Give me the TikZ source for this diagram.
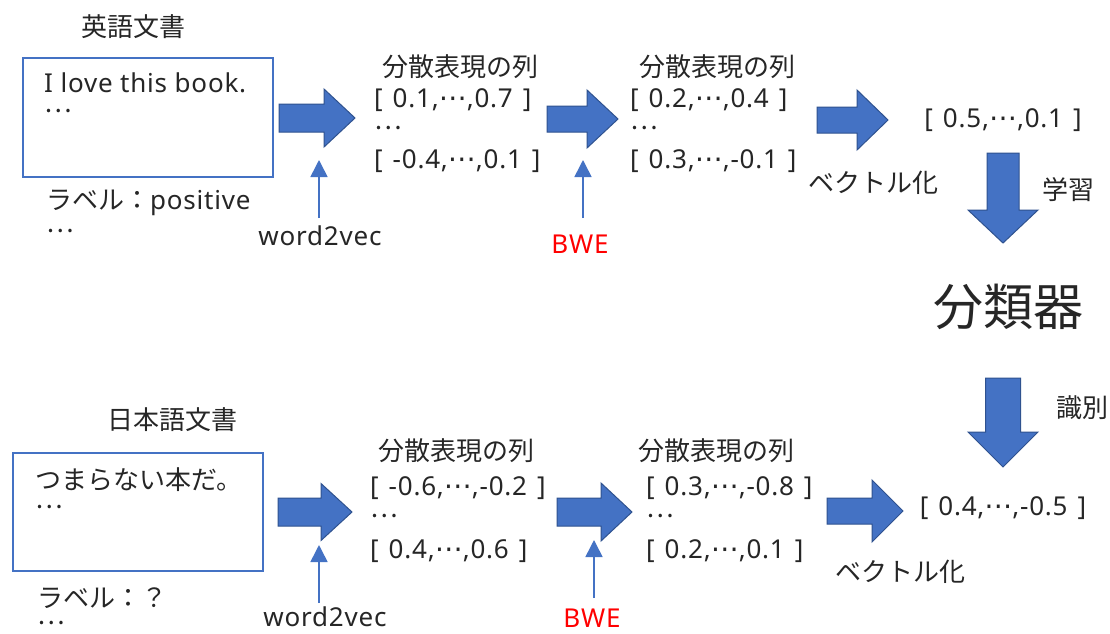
\documentclass[tikz,border=0pt]{standalone}
\usepackage{fontspec}
\setmainfont{Noto Sans}[LetterSpace=3]
\newfontfamily\jp{Noto Sans CJK JP}
\newfontfamily\dv{DejaVu Sans}
\usetikzlibrary{arrows.meta}
\definecolor{blu}{HTML}{4472C4}
\definecolor{blud}{HTML}{2F528F}
\definecolor{txt}{HTML}{262626}
\definecolor{bwered}{HTML}{FF0000}
\newcommand\vd{{\dv\fontsize{28}{30}\selectfont ⋯}}
\newcommand\jdots{{\jp …}}
\newcommand\vsp{\hspace{10pt}}
\newcommand\rblk[5]{% tail, tip, yc, shaft half, head half
  \draw[blkarrow] (#1,#3-#4) -- (#2-31,#3-#4) -- (#2-31,#3-#5) -- (#2,#3) -- (#2-31,#3+#5) -- (#2-31,#3+#4) -- (#1,#3+#4) -- cycle;}
\newcommand\dblk[6]{% xc, top, tip, shaft half, head half, head len
  \draw[blkarrow] (#1-#4,#2) -- (#1+#4,#2) -- (#1+#4,#3-#6) -- (#1+#5,#3-#6) -- (#1,#3) -- (#1-#5,#3-#6) -- (#1-#4,#3-#6) -- cycle;}
\tikzset{
  lbl/.style={inner sep=0pt, text=txt, font=\fontsize{26}{30}\selectfont},
  lw/.style={lbl, anchor=west},
  docbox/.style={draw=blu, line width=2pt},
  blkarrow/.style={fill=blu, draw=blud, line width=1pt, line join=miter},
  thinarr/.style={draw=blu, line width=1.6pt, -{Triangle[length=17pt,width=17pt]}},
  bwetext/.style={lbl, text=bwered},
}
\begin{document}
\begin{tikzpicture}[x=1pt,y=-1pt]
\useasboundingbox[fill=white] (0,0) rectangle (1110,633);

% ---- top row ----
\node[lbl] (enTitle) at (133,27) {\jp 英語文書};
\node[docbox, minimum width=250pt, minimum height=119pt, anchor=north west] (enBox) at (22,57) {};
\node[lw] (enS) at (44,83) {I love this book.};
\node[lw] (enD) at (44,111) {\jdots};
\node[lw] (enL) at (46,203) {{\jp ラベル：}positive};
\node[lw] (enLD) at (46,231) {\jdots};

\rblk{279}{355}{118}{14}{29}

\node[lbl] (s1t) at (460,67) {\jp 分散表現の列};
\node[lw] (s1a) at (374,100) {[\vsp0.1,\vd,0.7\vsp]};
\node[lw] (s1b) at (374,128) {\jdots};
\node[lw] (s1c) at (374,161) {[\vsp-0.4,\vd,0.1\vsp]};

\node[lbl] (w2v1) at (320,236) {word2vec};
\coordinate (w2v1tip) at (319,160);
\coordinate (w2v1base) at (319,218);
\draw[thinarr] (w2v1base) -- (w2v1tip);

\rblk{547}{618}{119}{13}{29}

\node[lbl] (s2t) at (717,67) {\jp 分散表現の列};
\node[lw] (s2a) at (630,100) {[\vsp0.2,\vd,0.4\vsp]};
\node[lw] (s2b) at (630,128) {\jdots};
\node[lw] (s2c) at (630,161) {[\vsp0.3,\vd,-0.1\vsp]};

\node[bwetext] (bwe1) at (580,244) {BWE};
\coordinate (bwe1tip) at (583,160);
\coordinate (bwe1base) at (583,218);
\draw[thinarr] (bwe1base) -- (bwe1tip);

\rblk{817}{888}{120}{13}{30}

\node[lbl] (v1) at (1003,120) {[\vsp0.5,\vd,0.1\vsp]};
\node[lbl] (vec1) at (873,183) {\jp ベクトル化};

\dblk{1003}{153}{243}{16}{35}{33}
\node[lbl] (learn) at (1068,190) {\jp 学習};

\node[lbl, font=\fontsize{50}{56}\selectfont] (clf) at (1008,307) {\jp 分類器};

\dblk{1003}{378}{467}{17.5}{35}{35}
\node[lbl] (ident) at (1082,408) {\jp 識別};

% ---- bottom row ----
\node[lbl] (jaTitle) at (172,420) {\jp 日本語文書};
\node[docbox, minimum width=250pt, minimum height=118pt, anchor=north west] (jaBox) at (12,452) {};
\node[lw] (jaS) at (35,480) {\jp つまらない本だ。};
\node[lw] (jaD) at (35,507) {\jdots};
\node[lw] (jaL) at (37,598) {\jp ラベル：？};
\node[lw] (jaLD) at (37,623) {\jdots};

\rblk{278}{352}{512}{14}{28.5}

\node[lbl] (t1t) at (456,451) {\jp 分散表現の列};
\node[lw] (t1a) at (370,488) {[\vsp-0.6,\vd,-0.2\vsp]};
\node[lw] (t1b) at (370,516) {\jdots};
\node[lw] (t1c) at (370,551) {[\vsp0.4,\vd,0.6\vsp]};

\node[lbl] (w2v2) at (325,617) {word2vec};
\coordinate (w2v2tip) at (319,545);
\coordinate (w2v2base) at (319,603);
\draw[thinarr] (w2v2base) -- (w2v2tip);

\rblk{557}{632}{512}{14}{29}

\node[lbl] (t2t) at (716,451) {\jp 分散表現の列};
\node[lw] (t2a) at (646,488) {[\vsp0.3,\vd,-0.8\vsp]};
\node[lw] (t2b) at (646,516) {\jdots};
\node[lw] (t2c) at (646,551) {[\vsp0.2,\vd,0.1\vsp]};

\node[bwetext] (bwe2) at (592,618) {BWE};
\coordinate (bwe2tip) at (594,540);
\coordinate (bwe2base) at (594,598);
\draw[thinarr] (bwe2base) -- (bwe2tip);

\rblk{827}{903}{511}{13}{31}

\node[lbl] (v2) at (1003,508) {[\vsp0.4,\vd,-0.5\vsp]};
\node[lbl] (vec2) at (900,572) {\jp ベクトル化};
\end{tikzpicture}
\end{document}
